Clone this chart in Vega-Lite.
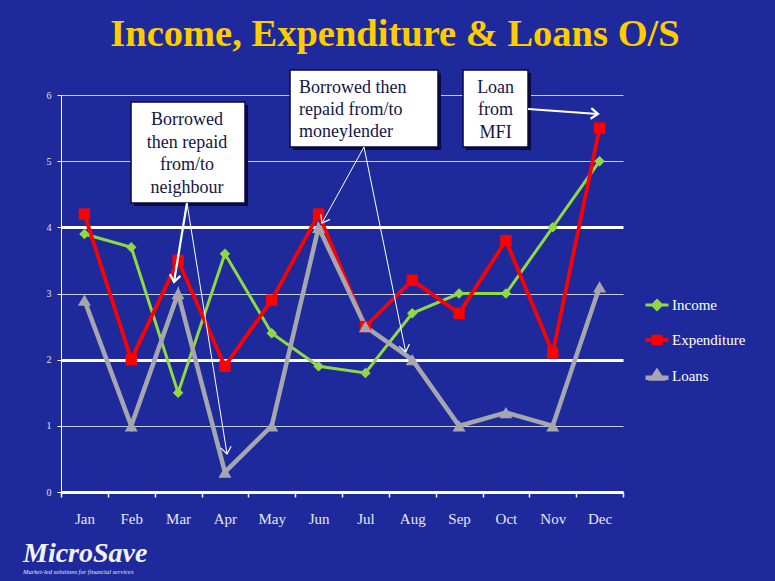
{
  "$schema": "https://vega.github.io/schema/vega-lite/v6.json",
  "width": 562,
  "height": 397,
  "autosize": {"type": "none"},
  "padding": {"left": 61, "top": 95, "right": 152, "bottom": 89},
  "background": "#1E2A9B",
  "config": {"view": {"stroke": null}, "font": "Liberation Serif", "text": {"font": "Liberation Serif"}},
  "title": {
    "text": "Income, Expenditure & Loans O/S",
    "font": "Liberation Serif",
    "fontSize": 38.5,
    "fontWeight": "bold",
    "color": "#FFCC00",
    "anchor": "middle",
    "frame": "group",
    "dx": 53,
    "baseline": "alphabetic",
    "offset": -15
  },
  "datasets": {
    "series": [
      {"month": "Jan", "series": "Income", "value": 3.9},
      {"month": "Feb", "series": "Income", "value": 3.7},
      {"month": "Mar", "series": "Income", "value": 1.5},
      {"month": "Apr", "series": "Income", "value": 3.6},
      {"month": "May", "series": "Income", "value": 2.4},
      {"month": "Jun", "series": "Income", "value": 1.9},
      {"month": "Jul", "series": "Income", "value": 1.8},
      {"month": "Aug", "series": "Income", "value": 2.7},
      {"month": "Sep", "series": "Income", "value": 3.0},
      {"month": "Oct", "series": "Income", "value": 3.0},
      {"month": "Nov", "series": "Income", "value": 4.0},
      {"month": "Dec", "series": "Income", "value": 5.0},
      {"month": "Jan", "series": "Expenditure", "value": 4.2},
      {"month": "Feb", "series": "Expenditure", "value": 2.0},
      {"month": "Mar", "series": "Expenditure", "value": 3.5},
      {"month": "Apr", "series": "Expenditure", "value": 1.9},
      {"month": "May", "series": "Expenditure", "value": 2.9},
      {"month": "Jun", "series": "Expenditure", "value": 4.2},
      {"month": "Jul", "series": "Expenditure", "value": 2.5},
      {"month": "Aug", "series": "Expenditure", "value": 3.2},
      {"month": "Sep", "series": "Expenditure", "value": 2.7},
      {"month": "Oct", "series": "Expenditure", "value": 3.8},
      {"month": "Nov", "series": "Expenditure", "value": 2.1},
      {"month": "Dec", "series": "Expenditure", "value": 5.5},
      {"month": "Jan", "series": "Loans", "value": 2.9},
      {"month": "Feb", "series": "Loans", "value": 1.0},
      {"month": "Mar", "series": "Loans", "value": 3.0},
      {"month": "Apr", "series": "Loans", "value": 0.3},
      {"month": "May", "series": "Loans", "value": 1.0},
      {"month": "Jun", "series": "Loans", "value": 4.0},
      {"month": "Jul", "series": "Loans", "value": 2.5},
      {"month": "Aug", "series": "Loans", "value": 2.0},
      {"month": "Sep", "series": "Loans", "value": 1.0},
      {"month": "Oct", "series": "Loans", "value": 1.2},
      {"month": "Nov", "series": "Loans", "value": 1.0},
      {"month": "Dec", "series": "Loans", "value": 3.1}
    ],
    "boxes": [
      {"id": "neighbour", "x": 1.495, "x2": 3.929, "y": 5.894, "y2": 4.368},
      {"id": "moneylender", "x": 4.89, "x2": 8.05, "y": 6.378, "y2": 5.214},
      {"id": "mfi", "x": 8.584, "x2": 9.972, "y": 6.378, "y2": 5.214}
    ],
    "notes": [
      {"id": "neighbour", "x": 2.69, "y": 5.622, "text": "Borrowed|then repaid|from/to|neighbour"},
      {"id": "moneylender", "x": 5.08, "y": 6.106, "text": "Borrowed then|repaid from/to|moneylender"},
      {"id": "mfi", "x": 9.28, "y": 6.106, "text": "Loan|from|MFI"}
    ],
    "arrows": [
      {"target": "Mar", "x": 2.69, "y": 4.368, "x2": 2.413, "y2": 3.174},
      {"target": "Apr", "x": 2.69, "y": 4.368, "x2": 3.545, "y2": 0.574},
      {"target": "Jun", "x": 6.47, "y": 5.214, "x2": 5.573, "y2": 4.065},
      {"target": "Aug", "x": 6.47, "y": 5.214, "x2": 7.36, "y2": 2.116},
      {"target": "Dec", "x": 9.972, "y": 5.788, "x2": 11.466, "y2": 5.713}
    ],
    "logo": [
      {"id": "name", "x": -0.811, "y": -0.937, "text": "MicroSave"},
      {"id": "tagline", "x": -0.811, "y": -1.209, "text": "Market-led solutions for financial services"}
    ]
  },
  "resolve": {"scale": {"x": "independent"}},
  "layer": [
    {
      "data": {"name": "series"},
      "mark": {"type": "line"},
      "encoding": {
        "x": {
          "field": "month", "type": "ordinal",
          "sort": ["Jan","Feb","Mar","Apr","May","Jun","Jul","Aug","Sep","Oct","Nov","Dec"],
          "scale": {"type": "band", "paddingInner": 0, "paddingOuter": 0},
          "axis": {
            "title": null, "labelAngle": 0, "labelFontSize": 15, "labelColor": "#E6E6F2",
            "labelFont": "Liberation Serif", "labelPadding": 14,
            "domainColor": "#FFFFFF", "domainWidth": 3,
            "tickColor": "#FFFFFF", "tickSize": 5, "tickWidth": 1.5, "tickBand": "extent",
            "grid": false
          }
        },
        "y": {
          "field": "value", "type": "quantitative",
          "scale": {"domain": [0, 6], "nice": false, "zero": false},
          "axis": {
            "title": null, "values": [0,1,2,3,4,5,6], "format": "d", "labelFontSize": 10, "labelColor": "#E0E0EE",
            "labelFont": "Liberation Serif", "labelPadding": 6,
            "domainColor": "#FFFFFF", "domainWidth": 1,
            "tickColor": "#FFFFFF", "tickSize": 4,
            "grid": true,
            "gridColor": {"condition": {"test": "datum.value === 2 || datum.value === 4", "value": "#FFFFFF"}, "value": "#C8CCEE"},
            "gridWidth": {"condition": {"test": "datum.value === 2 || datum.value === 4", "value": 3}, "value": 1}
          }
        },
        "color": {
          "field": "series", "type": "nominal",
          "scale": {"domain": ["Income","Expenditure","Loans"], "range": ["#8FD943","#FF0000","#A6A6AE"]},
          "legend": {
            "title": null, "orient": "none", "legendX": 582, "legendY": 197, "padding": 0,
            "labelFontSize": 15, "labelColor": "#FFFFFF", "labelFont": "Liberation Serif",
            "labelOffset": 1, "symbolSize": 529, "rowPadding": 10.5, "symbolStrokeWidth": 3,
            "encode": {
              "symbols": {
                "update": {
                  "shape": {"signal": "datum.value === 'Income' ? 'M-1,0H1M0,-0.38L0.38,0L0,0.38L-0.38,0Z' : datum.value === 'Expenditure' ? 'M-1,0H1M-0.33,-0.3H0.33V0.3H-0.33Z' : 'M-1,0.15H1M0,-0.38L0.4,0.22H-0.4Z'"},
                  "stroke": {"signal": "datum.value === 'Income' ? '#8FD943' : datum.value === 'Expenditure' ? '#FF0000' : '#A6A6AE'"},
                  "fill": {"signal": "datum.value === 'Income' ? '#8FD943' : datum.value === 'Expenditure' ? '#FF0000' : '#A6A6AE'"},
                  "strokeWidth": {"value": 3},
                  "opacity": {"value": 1}
                }
              }
            }
          }
        },
        "strokeWidth": {
          "field": "series", "type": "nominal",
          "scale": {"domain": ["Income","Expenditure","Loans"], "range": [3, 4.5, 3.5]},
          "legend": null
        }
      }
    },
    {
      "data": {"name": "series"},
      "transform": [{"filter": "datum.series === 'Income'"}],
      "mark": {"type": "point", "filled": true, "opacity": 1, "shape": "diamond", "size": 110, "color": "#8FD943"},
      "encoding": {
        "x": {
          "field": "month", "type": "ordinal",
          "sort": ["Jan","Feb","Mar","Apr","May","Jun","Jul","Aug","Sep","Oct","Nov","Dec"],
          "scale": {"type": "band", "paddingInner": 0, "paddingOuter": 0},
          "axis": null
        },
        "y": {"field": "value", "type": "quantitative", "scale": {"domain": [0, 6], "nice": false, "zero": false}}
      }
    },
    {
      "data": {"name": "series"},
      "transform": [{"filter": "datum.series === 'Expenditure'"}],
      "mark": {"type": "point", "filled": true, "opacity": 1, "shape": "square", "size": 130, "color": "#FF0000"},
      "encoding": {
        "x": {
          "field": "month", "type": "ordinal",
          "sort": ["Jan","Feb","Mar","Apr","May","Jun","Jul","Aug","Sep","Oct","Nov","Dec"],
          "scale": {"type": "band", "paddingInner": 0, "paddingOuter": 0},
          "axis": null
        },
        "y": {"field": "value", "type": "quantitative", "scale": {"domain": [0, 6], "nice": false, "zero": false}}
      }
    },
    {
      "data": {"name": "series"},
      "transform": [{"filter": "datum.series === 'Loans'"}],
      "mark": {"type": "point", "filled": true, "opacity": 1, "shape": "triangle-up", "size": 170, "color": "#A6A6AE"},
      "encoding": {
        "x": {
          "field": "month", "type": "ordinal",
          "sort": ["Jan","Feb","Mar","Apr","May","Jun","Jul","Aug","Sep","Oct","Nov","Dec"],
          "scale": {"type": "band", "paddingInner": 0, "paddingOuter": 0},
          "axis": null
        },
        "y": {"field": "value", "type": "quantitative", "scale": {"domain": [0, 6], "nice": false, "zero": false}}
      }
    },
    {
      "data": {"name": "boxes"},
      "mark": {"type": "rect", "fill": "#0A0A40", "xOffset": 3, "yOffset": 3, "x2Offset": 3, "y2Offset": 3},
      "encoding": {
        "x": {"field": "x", "type": "quantitative", "scale": {"domain": [0, 12], "nice": false, "zero": false}, "axis": null},
        "x2": {"field": "x2"},
        "y": {"field": "y", "type": "quantitative", "scale": {"domain": [0, 6], "nice": false, "zero": false}},
        "y2": {"field": "y2"}
      }
    },
    {
      "data": {"name": "boxes"},
      "mark": {"type": "rect", "fill": "#FFFFFF", "stroke": "#0A0A40", "strokeWidth": 1.5},
      "encoding": {
        "x": {"field": "x", "type": "quantitative", "scale": {"domain": [0, 12], "nice": false, "zero": false}, "axis": null},
        "x2": {"field": "x2"},
        "y": {"field": "y", "type": "quantitative", "scale": {"domain": [0, 6], "nice": false, "zero": false}},
        "y2": {"field": "y2"}
      }
    },
    {
      "data": {"name": "notes"},
      "transform": [{"filter": "datum.id !== 'moneylender'"}],
      "mark": {"type": "text", "align": "center", "baseline": "middle", "fontSize": 18, "lineHeight": 22.5, "lineBreak": "|", "color": "#14144A", "font": "Liberation Serif"},
      "encoding": {
        "x": {"field": "x", "type": "quantitative", "scale": {"domain": [0, 12], "nice": false, "zero": false}, "axis": null},
        "y": {"field": "y", "type": "quantitative", "scale": {"domain": [0, 6], "nice": false, "zero": false}},
        "text": {"field": "text"}
      }
    },
    {
      "data": {"name": "notes"},
      "transform": [{"filter": "datum.id === 'moneylender'"}],
      "mark": {"type": "text", "align": "left", "baseline": "middle", "fontSize": 18, "lineHeight": 22, "lineBreak": "|", "color": "#14144A", "font": "Liberation Serif"},
      "encoding": {
        "x": {"field": "x", "type": "quantitative", "scale": {"domain": [0, 12], "nice": false, "zero": false}, "axis": null},
        "y": {"field": "y", "type": "quantitative", "scale": {"domain": [0, 6], "nice": false, "zero": false}},
        "text": {"field": "text"}
      }
    },
    {
      "data": {"name": "arrows"},
      "mark": {"type": "rule", "color": "#FFFFFF"},
      "encoding": {
        "x": {"field": "x", "type": "quantitative", "scale": {"domain": [0, 12], "nice": false, "zero": false}, "axis": null},
        "y": {"field": "y", "type": "quantitative", "scale": {"domain": [0, 6], "nice": false, "zero": false}},
        "x2": {"field": "x2"},
        "y2": {"field": "y2"},
        "strokeWidth": {"condition": {"test": "datum.target === 'Mar' || datum.target === 'Dec'", "value": 2.2}, "value": 1}
      }
    },
    {
      "data": {"name": "arrows"},
      "transform": [
        {"calculate": "atan2((datum.y - datum.y2) * 66.1667, (datum.x2 - datum.x) * 46.8333) * 180 / PI", "as": "heading"}
      ],
      "mark": {"type": "point", "shape": "M-1,-0.75L0,0L-1,0.75", "filled": false, "stroke": "#FFFFFF", "opacity": 1, "size": 200},
      "encoding": {
        "x": {"field": "x2", "type": "quantitative", "scale": {"domain": [0, 12], "nice": false, "zero": false}, "axis": null},
        "y": {"field": "y2", "type": "quantitative", "scale": {"domain": [0, 6], "nice": false, "zero": false}},
        "angle": {"field": "heading", "type": "quantitative", "scale": null},
        "strokeWidth": {"condition": {"test": "datum.target === 'Mar' || datum.target === 'Dec'", "value": 2.2}, "value": 1.2}
      }
    },
    {
      "data": {"name": "logo"},
      "transform": [{"filter": "datum.id === 'name'"}],
      "mark": {"type": "text", "align": "left", "baseline": "middle", "fontSize": 28, "fontStyle": "italic", "fontWeight": "bold", "color": "#F2F2FA", "font": "Liberation Serif"},
      "encoding": {
        "x": {"field": "x", "type": "quantitative", "scale": {"domain": [0, 12], "nice": false, "zero": false}, "axis": null},
        "y": {"field": "y", "type": "quantitative", "scale": {"domain": [0, 6], "nice": false, "zero": false}},
        "text": {"field": "text"}
      }
    },
    {
      "data": {"name": "logo"},
      "transform": [{"filter": "datum.id === 'tagline'"}],
      "mark": {"type": "text", "align": "left", "baseline": "middle", "fontSize": 6.5, "fontStyle": "italic", "color": "#E6E6F2", "font": "Liberation Serif"},
      "encoding": {
        "x": {"field": "x", "type": "quantitative", "scale": {"domain": [0, 12], "nice": false, "zero": false}, "axis": null},
        "y": {"field": "y", "type": "quantitative", "scale": {"domain": [0, 6], "nice": false, "zero": false}},
        "text": {"field": "text"}
      }
    }
  ]
}
